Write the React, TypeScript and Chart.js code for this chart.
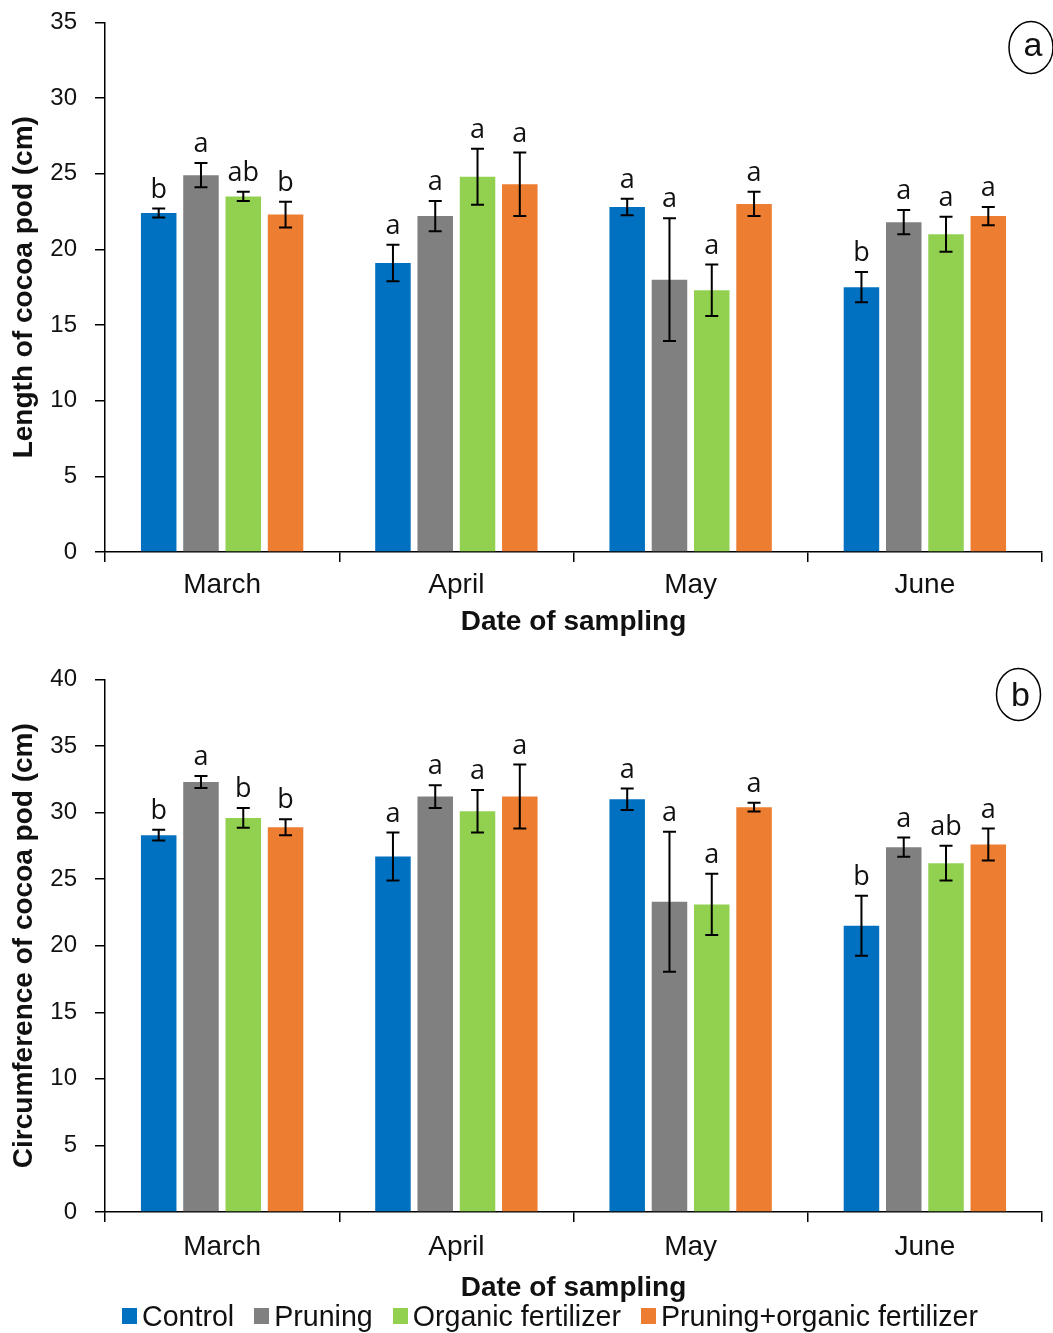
import React, { useEffect, useRef } from 'react';
import { Chart, registerables } from 'chart.js';

Chart.register(...registerables);

// ---------- data ----------
const months = ['March', 'April', 'May', 'June'];
const seriesNames = ['Control', 'Pruning', 'Organic fertilizer', 'Pruning+organic fertilizer'];
const seriesColors = ['#0070C0', '#808080', '#92D050', '#ED7D31'];

// Panel (a): length of cocoa pod (cm)
const lengthControl = [22.4, 19.1, 22.8, 17.5];
const lengthPruning = [24.9, 22.2, 18.0, 21.8];
const lengthOrganic = [23.5, 24.8, 17.3, 21.0];
const lengthPrunOrg = [22.3, 24.3, 23.0, 22.2];
const lengthControlErr = [0.3, 1.2, 0.55, 1.0];
const lengthPruningErr = [0.8, 1.0, 4.05, 0.8];
const lengthOrganicErr = [0.3, 1.85, 1.7, 1.15];
const lengthPrunOrgErr = [0.85, 2.1, 0.8, 0.6];
const lengthControlLetters = ['b', 'a', 'a', 'b'];
const lengthPruningLetters = ['a', 'a', 'a', 'a'];
const lengthOrganicLetters = ['ab', 'a', 'a', 'a'];
const lengthPrunOrgLetters = ['b', 'a', 'a', 'a'];

// Panel (b): circumference of cocoa pod (cm)
const circControl = [28.3, 26.7, 31.0, 21.5];
const circPruning = [32.3, 31.2, 23.3, 27.4];
const circOrganic = [29.6, 30.1, 23.1, 26.2];
const circPrunOrg = [28.9, 31.2, 30.4, 27.6];
const circControlErr = [0.4, 1.8, 0.8, 2.25];
const circPruningErr = [0.45, 0.85, 5.25, 0.72];
const circOrganicErr = [0.75, 1.6, 2.3, 1.3];
const circPrunOrgErr = [0.6, 2.4, 0.33, 1.2];
const circControlLetters = ['b', 'a', 'a', 'b'];
const circPruningLetters = ['a', 'a', 'a', 'a'];
const circOrganicLetters = ['b', 'a', 'a', 'ab'];
const circPrunOrgLetters = ['b', 'a', 'a', 'a'];

const FONT = '"Liberation Sans", Arial, sans-serif';
const TXT = '#111';

type PanelCfg = {
  values: number[][];
  errors: number[][];
  letters: string[][];
  yMax: number;
  yTitle: string;
  panelLabel: string;
  labelDx: number;
  labelDy: number;
  padTop: number;
  xAxisHeight: number;
  tickPad: number;
  titlePadBottom: number;
};

function makePlugin(cfg: PanelCfg) {
  return {
    id: 'errorBarsAndLabels',
    afterDatasetsDraw(chart: any) {
      const ctx = chart.ctx;
      const y = chart.scales.y;
      chart.data.datasets.forEach((ds: any, i: number) => {
        const meta = chart.getDatasetMeta(i);
        meta.data.forEach((bar: any, j: number) => {
          const v = ds.data[j];
          const e = cfg.errors[i][j];
          const yt = y.getPixelForValue(v + e);
          const yb = y.getPixelForValue(v - e);
          const x = bar.x;
          ctx.save();
          ctx.strokeStyle = '#000';
          ctx.lineWidth = 2;
          ctx.beginPath();
          ctx.moveTo(x, yt);
          ctx.lineTo(x, yb);
          ctx.moveTo(x - 6.5, yt);
          ctx.lineTo(x + 6.5, yt);
          ctx.moveTo(x - 6.5, yb);
          ctx.lineTo(x + 6.5, yb);
          ctx.stroke();
          ctx.fillStyle = TXT;
          ctx.font = '27px "Open Sans", "Noto Sans", sans-serif';
          ctx.textAlign = 'center';
          ctx.textBaseline = 'alphabetic';
          ctx.fillText(cfg.letters[i][j], x, yt - 11);
          ctx.restore();
        });
      });
      // circled panel label
      const { right, top } = chart.chartArea;
      const cx = right + cfg.labelDx;
      const cy = top + cfg.labelDy;
      ctx.save();
      ctx.strokeStyle = '#000';
      ctx.lineWidth = 1.5;
      ctx.beginPath();
      ctx.ellipse(cx, cy, 22, 26, 0, 0, Math.PI * 2);
      ctx.stroke();
      ctx.fillStyle = TXT;
      ctx.font = '34px ' + FONT;
      ctx.textAlign = 'center';
      ctx.textBaseline = 'alphabetic';
      const base = cfg.panelLabel === 'a' ? cy + 9 : cy + 12;
      ctx.fillText(cfg.panelLabel, cx + 2, base);
      ctx.restore();
    },
  };
}

function buildConfig(cfg: PanelCfg): any {
  return {
    type: 'bar',
    data: {
      labels: months,
      datasets: seriesNames.map((name, i) => ({
        label: name,
        data: cfg.values[i],
        backgroundColor: seriesColors[i],
        borderWidth: 0,
        categoryPercentage: 0.722,
        barPercentage: 0.84,
      })),
    },
    options: {
      responsive: false,
      animation: false,
      devicePixelRatio: 1,
      layout: { padding: { top: cfg.padTop, right: 11, left: 0, bottom: 0 } },
      plugins: {
        legend: { display: false },
        tooltip: { enabled: false },
      },
      scales: {
        x: {
          offset: true,
          grid: {
            display: true,
            drawOnChartArea: false,
            drawTicks: true,
            tickLength: 10,
            color: '#000',
            lineWidth: 1.5,
            offset: true,
          },
          border: { display: true, color: '#000', width: 1.5 },
          ticks: { color: TXT, font: { family: FONT, size: 28 }, padding: cfg.tickPad },
          title: {
            display: true,
            text: 'Date of sampling',
            color: TXT,
            font: { family: FONT, size: 28, weight: 'bold' },
            padding: { top: 0, bottom: cfg.titlePadBottom },
          },
          afterFit: (s: any) => {
            s.height = cfg.xAxisHeight;
          },
        },
        y: {
          min: 0,
          max: cfg.yMax,
          ticks: { stepSize: 5, color: TXT, font: { family: FONT, size: 24 }, padding: 18 },
          grid: {
            display: true,
            drawOnChartArea: false,
            drawTicks: true,
            tickLength: 10,
            color: '#000',
            lineWidth: 1.5,
          },
          border: { display: true, color: '#000', width: 1.5 },
          title: {
            display: true,
            text: cfg.yTitle,
            color: TXT,
            font: { family: FONT, size: 28, weight: 'bold' },
            padding: { top: 7, bottom: 0 },
          },
          afterFit: (s: any) => {
            s.width = 105;
          },
        },
      },
    },
    plugins: [makePlugin(cfg)],
  };
}

const panelA: PanelCfg = {
  values: [lengthControl, lengthPruning, lengthOrganic, lengthPrunOrg],
  errors: [lengthControlErr, lengthPruningErr, lengthOrganicErr, lengthPrunOrgErr],
  letters: [lengthControlLetters, lengthPruningLetters, lengthOrganicLetters, lengthPrunOrgLetters],
  yMax: 35,
  yTitle: 'Length of cocoa pod (cm)',
  panelLabel: 'a',
  labelDx: -11,
  labelDy: 25,
  padTop: 22,
  xAxisHeight: 93,
  tickPad: 6,
  titlePadBottom: 6,
};

const panelB: PanelCfg = {
  values: [circControl, circPruning, circOrganic, circPrunOrg],
  errors: [circControlErr, circPruningErr, circOrganicErr, circPrunOrgErr],
  letters: [circControlLetters, circPruningLetters, circOrganicLetters, circPrunOrgLetters],
  yMax: 40,
  yTitle: 'Circumference of cocoa pod (cm)',
  panelLabel: 'b',
  labelDx: -23.5,
  labelDy: 15,
  padTop: 28,
  xAxisHeight: 98,
  tickPad: 8,
  titlePadBottom: 5,
};

function Panel({ top, height, cfg }: { top: number; height: number; cfg: PanelCfg }) {
  const ref = useRef<HTMLCanvasElement>(null);
  useEffect(() => {
    if (!ref.current) return;
    const chart = new Chart(ref.current, buildConfig(cfg));
    return () => chart.destroy();
  }, []);
  return (
    <canvas
      ref={ref}
      width={1053}
      height={height}
      style={{ position: 'absolute', left: 0, top, width: 1053, height }}
    />
  );
}

export default function App() {
  return (
    <div
      style={{
        position: 'absolute',
        left: 0,
        top: 0,
        width: 1053,
        height: 1333,
        background: '#fff',
        overflow: 'hidden',
      }}
    >
      <Panel top={-10} height={655} cfg={panelA} />
      <Panel top={647} height={663} cfg={panelB} />
      <div
        style={{
          position: 'absolute',
          top: 1300,
          left: 122,
          height: 32,
          display: 'flex',
          alignItems: 'center',
          fontFamily: FONT,
          fontSize: 28.6,
          color: TXT,
          whiteSpace: 'nowrap',
        }}
      >
        {seriesNames.map((name, i) => (
          <React.Fragment key={name}>
            <span
              style={{
                display: 'inline-block',
                width: 15,
                height: 16,
                background: seriesColors[i],
                marginRight: 5,
              }}
            />
            <span style={{ marginRight: i < seriesNames.length - 1 ? 20 : 0 }}>{name}</span>
          </React.Fragment>
        ))}
      </div>
    </div>
  );
}
